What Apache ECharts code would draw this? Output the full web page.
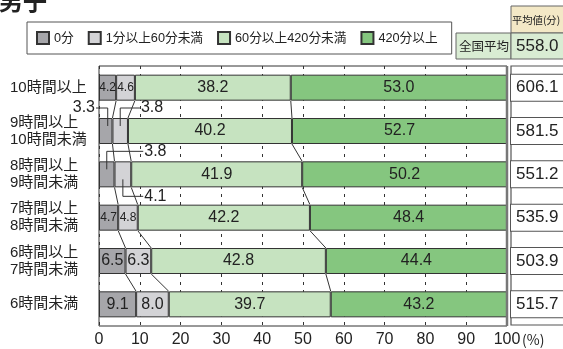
<!DOCTYPE html>
<html><head><meta charset="utf-8">
<script src="https://cdn.jsdelivr.net/npm/echarts@6/dist/echarts.min.js"></script>
<style>html,body{margin:0;padding:0;background:#fff}#c{width:563px;height:349px}</style>
</head><body><div id="c"></div>
<script>
const categories = ['10時間以上','9時間以上\n10時間未満','8時間以上\n9時間未満','7時間以上\n8時間未満','6時間以上\n7時間未満','6時間未満'];
const seriesNames = ['0分','1分以上60分未満','60分以上420分未満','420分以上'];
const v0 = [4.2, 3.3, 3.8, 4.7, 6.5, 9.1];
const v1 = [4.6, 3.8, 4.1, 4.8, 6.3, 8.0];
const v2 = [38.2, 40.2, 41.9, 42.2, 42.8, 39.7];
const v3 = [53.0, 52.7, 50.2, 48.4, 44.4, 43.2];
const averages = [606.1, 581.5, 551.2, 535.9, 503.9, 515.7];
const nationalAverage = 558.0;
const xTickValues = [0,10,20,30,40,50,60,70,80,90,100];
// labels drawn outside the bar: [row, series, side]
const outsideLabels = [[1,0,'left'],[1,1,'up'],[2,0,'up'],[2,1,'down']];

const rows = [v0, v1, v2, v3];
const colors = ['#a6a6aa', '#d3d3d6', '#c6e3c0', '#85c67f'];
const FONT = "'Liberation Sans','Noto Sans CJK JP',sans-serif";
const BAR_W = 26;
function cum(row, k) { let s = 0; for (let j = 0; j <= k; j++) s += rows[j][row]; return s; }
function isOutside(row, s) { return outsideLabels.some(o => o[0] === row && o[1] === s); }

const barSeries = rows.map((vals, s) => ({
  name: seriesNames[s],
  type: 'bar',
  stack: 'total',
  barWidth: BAR_W,
  itemStyle: { color: colors[s], borderColor: '#333', borderWidth: 1 },
  label: {
    show: true, position: 'inside', color: '#222', fontFamily: FONT, fontSize: 16,
    formatter: p => isOutside(p.dataIndex, s) ? '' : p.value.toFixed(1)
  },
  data: vals.map(v => v < 5 ? { value: v, label: { fontSize: 12, fontFamily: "'Liberation Sans Narrow','Liberation Sans',sans-serif" } } : v)
}));

const connectorSeries = {
  type: 'custom', coordinateSystem: 'cartesian2d', z: 5, silent: true,
  encode: { x: 0, y: 1 },
  data: categories.slice(0, -1).map((c, i) => [0, i]),
  renderItem(params, api) {
    const i = api.value(1);
    const half = BAR_W / 2;
    const children = [];
    for (let k = 0; k < 3; k++) {
      const a = api.coord([cum(i, k), i]);
      const b = api.coord([cum(i + 1, k), i + 1]);
      children.push({ type: 'line', shape: { x1: a[0], y1: a[1] + half, x2: b[0], y2: b[1] - half },
        style: { stroke: '#333', lineWidth: 1 } });
    }
    return { type: 'group', children };
  }
};

const leaderSeries = {
  type: 'custom', coordinateSystem: 'cartesian2d', z: 6, silent: true,
  encode: { x: 0, y: 1 },
  data: outsideLabels.map((o, j) => [0, o[0], j]),
  renderItem(params, api) {
    const o = outsideLabels[api.value(2)];
    const row = o[0], s = o[1], side = o[2];
    const val = rows[s][row];
    const start = s === 0 ? 0 : cum(row, s - 1);
    const half = BAR_W / 2;
    const c = api.coord([start + val / 2, row]);
    const top = c[1] - half, bot = c[1] + half;
    const x0 = api.coord([0, row])[0];
    const labelX = api.coord([cum(row, 1), row])[0] + 13;
    let pts, tx, ty, align;
    if (side === 'left') { ty = top - 10; pts = [[x0 - 3, ty], [c[0] + 2, ty], [c[0] + 2, top + 8]]; tx = x0 - 4; align = 'right'; }
    else if (side === 'up') { ty = top - 10; pts = [[c[0], top + 8], [c[0], ty], [labelX - 1, ty]]; tx = labelX; align = 'left'; }
    else { ty = bot + 9; pts = [[c[0], bot - 8], [c[0], ty], [labelX - 1, ty]]; tx = labelX; align = 'left'; }
    return { type: 'group', children: [
      { type: 'polyline', shape: { points: pts }, style: { stroke: '#333', lineWidth: 1, fill: null } },
      { type: 'text', style: { x: tx, y: ty, text: val.toFixed(1), align, verticalAlign: 'middle',
        fontSize: 16, fontFamily: FONT, fill: '#222' } }
    ] };
  }
};

const chart = echarts.init(document.getElementById('c'), null, { renderer: 'canvas' });
chart.setOption({
  animation: false,
  textStyle: { fontFamily: FONT },
  legend: {
    left: 27, top: 22, padding: [9, 14, 9, 9], itemGap: 14,
    itemWidth: 12, itemHeight: 12,
    borderColor: '#555', borderWidth: 1, backgroundColor: '#fff',
    textStyle: { fontSize: 12.7, color: '#222', fontFamily: FONT },
    data: seriesNames.map(n => ({ name: n, icon: 'rect' }))
  },
  grid: { left: 99, right: 56, top: 66, bottom: 23, outerBoundsMode: 'none', containLabel: false,
    show: true, borderColor: '#333', borderWidth: 1, backgroundColor: 'transparent' },
  xAxis: {
    type: 'value', min: 0, max: 100, interval: 10,
    axisLine: { show: false }, axisTick: { show: false },
    axisLabel: { fontSize: 16, color: '#222', margin: 6, fontFamily: FONT,
      formatter: v => xTickValues.includes(v) ? String(v) : '' },
    splitLine: { show: true, lineStyle: { color: '#333', type: [3, 5], width: 1 } }
  },
  yAxis: [{
    type: 'category', inverse: true, data: categories,
    axisLine: { show: false }, axisTick: { show: false },
    axisLabel: { interval: 0, align: 'left', margin: 89, fontSize: 15, lineHeight: 17, color: '#222', fontFamily: FONT }
  }, {
    type: 'category', inverse: true, position: 'right', data: categories,
    axisLine: { show: false }, axisTick: { show: false },
    axisLabel: { interval: 0, align: 'left', margin: 4, fontSize: 17, color: '#222', fontFamily: FONT,
      width: 56, height: 26, lineHeight: 26, padding: [0, 0, 0, 5],
      backgroundColor: '#fff', borderColor: '#555', borderWidth: 1,
      formatter: (v, idx) => averages[idx].toFixed(1) }
  }],
  graphic: [
    { type: 'text', left: -1, top: -11, style: { text: '男子', fontSize: 24, fontWeight: 'bold', fill: '#222', fontFamily: "'Noto Sans CJK JP',sans-serif" } },
    { type: 'line', shape: { x1: 507, y1: 66, x2: 507, y2: 326 }, style: { stroke: '#777', lineWidth: 2.5 }, z: 10 },
    { type: 'rect', shape: { x: 511, y: 66, width: 60, height: 259 }, style: { fill: 'none', stroke: '#555', lineWidth: 1.2 }, z: -1 },
    { type: 'rect', shape: { x: 511, y: 6, width: 60, height: 27 }, style: { fill: '#f3e8c6', stroke: '#666', lineWidth: 1 } },
    { type: 'text', x: 512, y: 20, style: { text: '平均値(分)', fontSize: 10.3, fill: '#222', verticalAlign: 'middle', fontFamily: "'Noto Sans CJK JP',sans-serif" } },
    { type: 'rect', shape: { x: 456, y: 33, width: 55, height: 26 }, style: { fill: '#d9ecd3', stroke: '#666', lineWidth: 1 } },
    { type: 'rect', shape: { x: 511, y: 33, width: 60, height: 26 }, style: { fill: '#d9ecd3', stroke: '#666', lineWidth: 1 } },
    { type: 'text', x: 459, y: 46, style: { text: '全国平均', fontSize: 12.5, fill: '#222', verticalAlign: 'middle', fontFamily: "'Noto Sans CJK JP',sans-serif" } },
    { type: 'text', x: 516, y: 46, style: { text: nationalAverage.toFixed(1), fontSize: 17, fill: '#222', verticalAlign: 'middle', fontFamily: FONT } },
    { type: 'text', x: 522, y: 340, style: { text: '(%)', fontSize: 14, fill: '#222', verticalAlign: 'middle', fontFamily: "'Noto Sans CJK JP',sans-serif" } }
  ],
  series: [...barSeries, connectorSeries, leaderSeries]
});
</script></body></html>
